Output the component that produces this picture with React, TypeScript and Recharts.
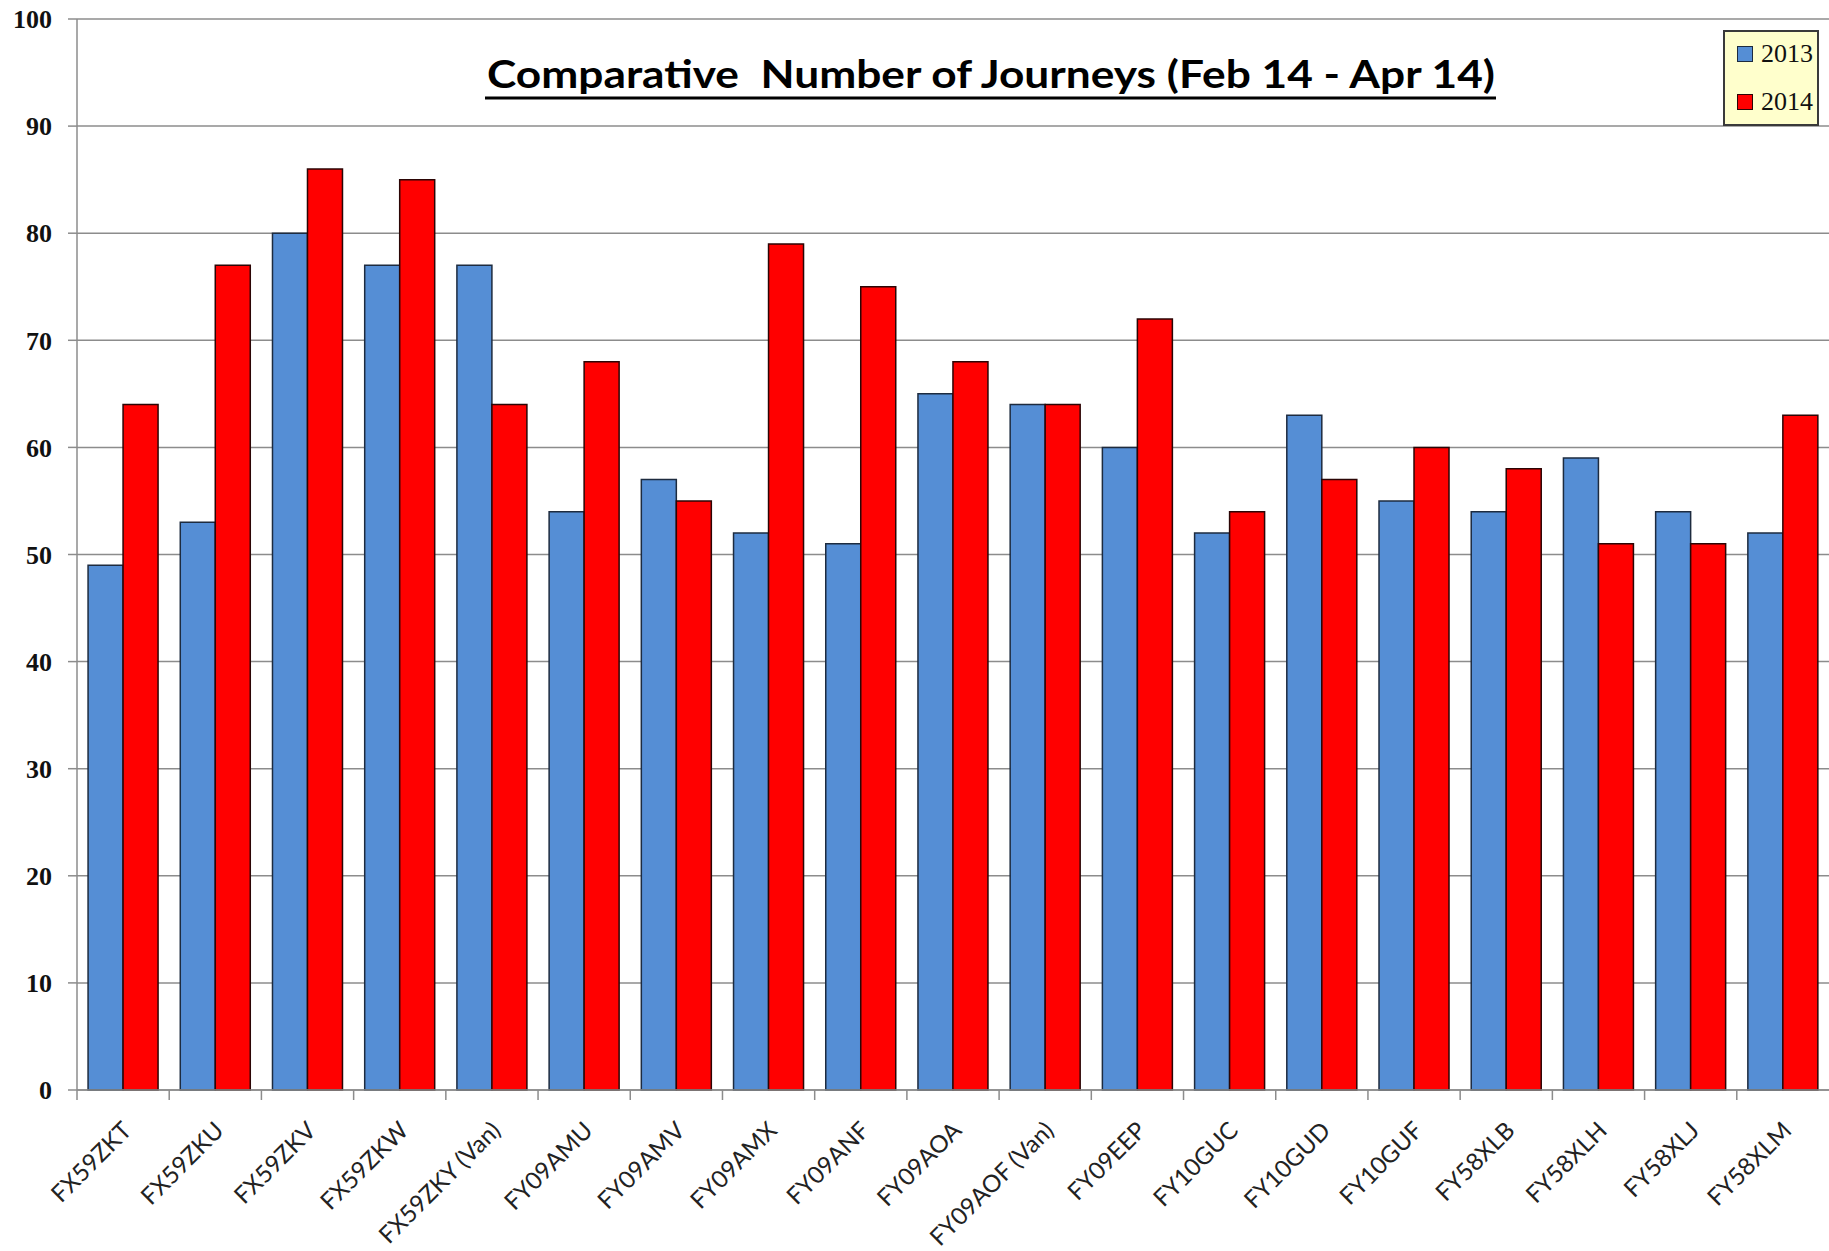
import React from "react";
import { Bar, BarChart, CartesianGrid, Legend, XAxis, YAxis } from "recharts";

const vehicles = [
  "FX59ZKT",
  "FX59ZKU",
  "FX59ZKV",
  "FX59ZKW",
  "FX59ZKY (Van)",
  "FY09AMU",
  "FY09AMV",
  "FY09AMX",
  "FY09ANF",
  "FY09AOA",
  "FY09AOF (Van)",
  "FY09EEP",
  "FY10GUC",
  "FY10GUD",
  "FY10GUF",
  "FY58XLB",
  "FY58XLH",
  "FY58XLJ",
  "FY58XLM",
];

const journeys2013 = [49, 53, 80, 77, 77, 54, 57, 52, 51, 65, 64, 60, 52, 63, 55, 54, 59, 54, 52];
const journeys2014 = [64, 77, 86, 85, 64, 68, 55, 79, 75, 68, 64, 72, 54, 57, 60, 58, 51, 51, 63];

const yTicks = [0, 10, 20, 30, 40, 50, 60, 70, 80, 90, 100];

const series = [
  { key: "y2013", name: "2013", color: "#558ED5", edge: "#1d2b3f" },
  { key: "y2014", name: "2014", color: "#FF0000", edge: "#2b0505" },
];

const data = vehicles.map((name, i) => ({
  name,
  y2013: journeys2013[i],
  y2014: journeys2014[i],
}));

const GRID = "#8c8c8c";
const WIDTH = 1829;
const HEIGHT = 1251;
const Y_AXIS_W = 77;

function VehicleTick(props: any) {
  const { x, y, payload } = props;
  const half =
    payload && typeof payload.offset === "number" && payload.offset > 0
      ? payload.offset
      : (WIDTH - Y_AXIS_W) / vehicles.length / 2;
  return (
    <g>
      <line x1={x - half} y1={y} x2={x - half} y2={y + 10} stroke={GRID} strokeWidth={1.5} />
      <text
        transform={`translate(${x + 10},${y + 42}) rotate(-45)`}
        textAnchor="end"
        fontFamily="Lato"
        fontSize={24}
        fill="#222"
      >
        {payload.value}
      </text>
    </g>
  );
}

function LegendBox() {
  return (
    <div
      style={{
        position: "relative",
        boxSizing: "border-box",
        width: 96,
        height: 96,
        background: "#FFFFCC",
        border: "2px solid #3a3a3a",
      }}
    >
      {series.map((s, i) => (
        <div
          key={s.key}
          style={{
            position: "absolute",
            left: 12,
            top: 8 + i * 47.5,
            height: 28,
            display: "flex",
            alignItems: "center",
            fontFamily: "Liberation Serif",
            fontSize: 26,
            color: "#111",
            lineHeight: "28px",
          }}
        >
          <span
            style={{
              display: "inline-block",
              width: 14,
              height: 14,
              background: s.color,
              border: `1px solid ${s.edge}`,
              marginRight: 8,
            }}
          />
          {s.name}
        </div>
      ))}
    </div>
  );
}

export default function App() {
  return (
    <div style={{ position: "relative", width: WIDTH, height: HEIGHT, background: "#fff" }}>
      <style>{`body{margin:0}`}</style>
      <BarChart
        width={WIDTH}
        height={HEIGHT}
        data={data}
        margin={{ top: 19, right: 0, bottom: 0, left: 0 }}
        barCategoryGap="12%"
        barGap={0}
      >
        <CartesianGrid vertical={false} stroke={GRID} strokeWidth={1.5} />
        <XAxis
          dataKey="name"
          height={161}
          interval={0}
          tickLine={false}
          tickSize={0}
          tickMargin={0}
          axisLine={{ stroke: GRID, strokeWidth: 1.5 }}
          tick={<VehicleTick />}
        />
        <YAxis
          domain={[0, 100]}
          ticks={yTicks}
          width={Y_AXIS_W}
          tickSize={9}
          tickMargin={16}
          axisLine={{ stroke: GRID, strokeWidth: 1.5 }}
          tickLine={{ stroke: GRID, strokeWidth: 1.5 }}
          tick={{ fontFamily: "Liberation Serif", fontSize: 26, fontWeight: "bold", fill: "#111" }}
        />
        <Legend
          layout="vertical"
          align="center"
          verticalAlign="middle"
          wrapperStyle={{ left: 1723, top: 30, width: 96, height: 96 }}
          content={() => <LegendBox />}
        />
        {series.map((s) => (
          <Bar
            key={s.key}
            dataKey={s.key}
            name={s.name}
            fill={s.color}
            stroke={s.edge}
            strokeWidth={1.5}
            isAnimationActive={false}
          />
        ))}
      </BarChart>
      <svg
        width={WIDTH}
        height={130}
        style={{ position: "absolute", left: 0, top: 0, pointerEvents: "none" }}
      >
        <text
          x={487}
          y={88}
          fontFamily="Lato"
          fontWeight="bold"
          fontSize={39}
          textLength={1008}
          lengthAdjust="spacingAndGlyphs"
          fill="#000"
          style={{ whiteSpace: "pre" }}
        >
          {"Comparative  Number of Journeys (Feb 14 - Apr 14)"}
        </text>
        <line x1={485} x2={1496} y1={98} y2={98} stroke="#000" strokeWidth={3} />
      </svg>
    </div>
  );
}
